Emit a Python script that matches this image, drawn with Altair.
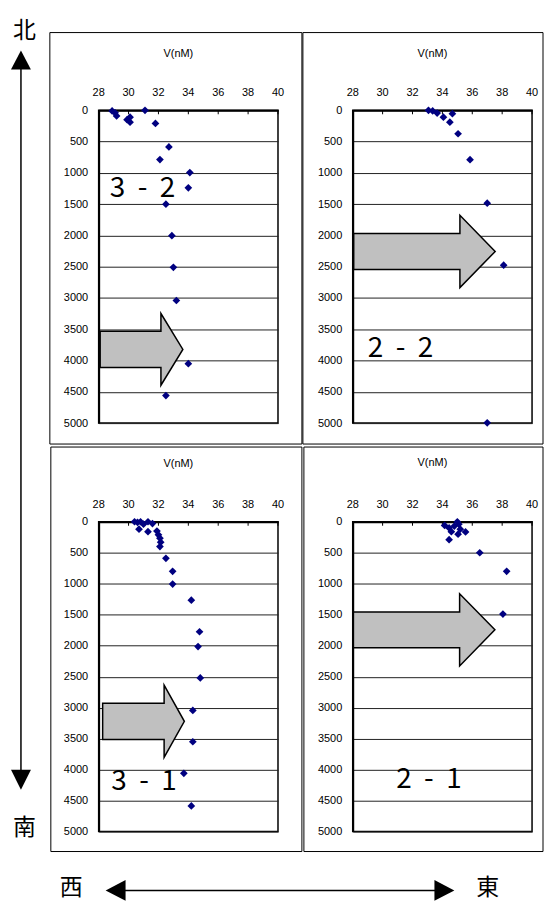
import altair as alt
import pandas as pd

# ---------------- data ----------------
x_ticks = [28, 30, 32, 34, 36, 38, 40]
y_ticks = [0, 500, 1000, 1500, 2000, 2500, 3000, 3500, 4000, 4500, 5000]

# panel 3-2 (north-west)
v_32 = [28.9, 29.1, 29.2, 29.9, 30.1, 30.1, 31.1, 31.8, 32.7, 32.1, 34.1, 34.0, 32.5, 32.9, 33.0, 33.2, 34.0, 32.5]
d_32 = [10, 40, 90, 150, 110, 190, 0, 210, 585, 787, 995, 1240, 1500, 2005, 2510, 3040, 4050, 4560]

# panel 2-2 (north-east)
v_22 = [33.07, 33.35, 33.65, 34.07, 34.67, 34.5, 35.05, 35.85, 37.0, 38.1, 37.0]
d_22 = [0, 10, 45, 110, 55, 190, 375, 790, 1485, 2475, 4995]

# panel 3-1 (south-west)
v_31 = [30.4, 30.6, 30.8, 31.0, 30.7, 31.3, 31.6, 31.3, 31.9, 32.0, 32.1, 32.15, 32.1, 32.5,
        32.95, 32.95, 34.2, 34.75, 34.65, 34.8, 34.3, 34.3, 33.7, 34.2]
d_31 = [0, 10, 0, 40, 120, 0, 30, 160, 150, 210, 265, 330, 400, 590,
        800, 1005, 1265, 1775, 2015, 2520, 3045, 3550, 4060, 4585]

# panel 2-1 (south-east)
v_21 = [34.15, 34.45, 34.6, 34.8, 35.0, 35.1, 35.2, 35.05, 35.55, 34.45, 36.5, 38.3, 38.05]
d_21 = [60, 100, 160, 70, 0, 40, 120, 200, 165, 290, 500, 800, 1490]

labels = ["3\u00a0\u00a0-\u00a0\u00a02", "2\u00a0\u00a0-\u00a0\u00a02", "3\u00a0\u00a0-\u00a0\u00a01", "2\u00a0\u00a0-\u00a0\u00a01"]
x_title = "V(nM)"

# ---------------- helpers ----------------
ONE = pd.DataFrame({"k": [0]})
W_PLOT = 180
H_TOP = 314
H_BOT = 311


def poly_path(pts, s):
    return "M" + "L".join(f"{x / s:.4f},{y / s:.4f}" for x, y in pts) + "Z"


def block_arrow(w, h, b, l):
    pts = [(-w / 2, -b / 2), (w / 2 - l, -b / 2), (w / 2 - l, -h / 2), (w / 2, 0),
           (w / 2 - l, h / 2), (w / 2 - l, b / 2), (-w / 2, b / 2)]
    return poly_path(pts, w / 2), w * w


def tri(direction, length, width):
    L, Wd = length / 2, width / 2
    if direction == "up":
        pts = [(0, -L), (Wd, L), (-Wd, L)]
    elif direction == "down":
        pts = [(0, L), (Wd, -L), (-Wd, -L)]
    elif direction == "left":
        pts = [(-L, 0), (L, -Wd), (L, Wd)]
    else:
        pts = [(L, 0), (-L, -Wd), (-L, Wd)]
    s = max(L, Wd)
    return poly_path(pts, s), (2 * s) ** 2


def shape_at(path_size, cx, cy, fill, stroke="black", sw=1.5):
    path, size = path_size
    return alt.Chart(ONE).mark_point(
        shape=path, size=size, filled=True, fill=fill, stroke=stroke,
        strokeWidth=sw, opacity=1, strokeJoin="miter"
    ).encode(x=alt.value(cx), y=alt.value(cy))


def text_at(txt, cx, cy, size, font, baseline="middle"):
    return alt.Chart(ONE).mark_text(
        text=txt, fontSize=size, font=font, color="black", align="center", baseline=baseline
    ).encode(x=alt.value(cx), y=alt.value(cy))


def panel(v, d, label, label_xy, arrow, arrow_xy, box, title_xy):
    df = pd.DataFrame({"V": v, "depth": d})
    xs = alt.Scale(domain=[28, 40], nice=False, zero=False)
    ys = alt.Scale(domain=[0, 5000], reverse=True, nice=False)
    pts = alt.Chart(df).mark_point(
        shape="diamond", filled=True, color="#000080", size=60, opacity=1
    ).encode(
        x=alt.X("V:Q", scale=xs, title=None,
                axis=alt.Axis(orient="top", values=x_ticks, grid=False, labels=False)),
        y=alt.Y("depth:Q", scale=ys, title=None,
                axis=alt.Axis(values=y_ticks, grid=True, format="d", labelFlush=False,
                              labelOverlap=False, labelPadding=11)),
    )
    tdf = pd.DataFrame({"t": x_ticks})
    ticks = alt.Chart(tdf).mark_rule(color="black", strokeWidth=1).encode(
        x=alt.X("t:Q", scale=xs, title=None), y=alt.value(0), y2=alt.value(4)
    )
    tick_labels = alt.Chart(tdf).mark_text(
        fontSize=11, font="Liberation Sans", color="black", baseline="middle", align="center"
    ).encode(x=alt.X("t:Q", scale=xs, title=None), y=alt.value(-17), text=alt.Text("t:Q", format="d"))
    border = alt.Chart(ONE).mark_rect(fillOpacity=0, stroke="black", strokeWidth=1).encode(
        x=alt.value(box[0]), x2=alt.value(box[1]), y=alt.value(box[2]), y2=alt.value(box[3])
    )
    title = text_at(x_title, title_xy[0], title_xy[1], 11, "Liberation Sans")
    arr = shape_at(block_arrow(*arrow), arrow_xy[0], arrow_xy[1], "#c0c0c0")
    lab = text_at(label, label_xy[0], label_xy[1], 28, "Noto Sans CJK JP")
    return [border, ticks, tick_labels, arr, pts, lab, title]


# top-left panel carries the compass decorations
tl_layers = panel(v_32, d_32, labels[0], (44, 79), (83, 72, 36.5, 22), (43, 240),
                  (-49, 204, -78, 335), (80, -56))
anchor = alt.Chart(ONE).mark_rect(opacity=0).encode(
    x=alt.value(-90), x2=alt.value(-89), y=alt.value(-100), y2=alt.value(-99)
)
vline = alt.Chart(ONE).mark_rule(color="black", strokeWidth=1.5).encode(
    x=alt.value(-78), y=alt.value(-45), y2=alt.value(666)
)
H_ARROW_Y = 783
hline = alt.Chart(ONE).mark_rule(color="black", strokeWidth=1.5).encode(
    x=alt.value(22), x2=alt.value(342), y=alt.value(H_ARROW_Y)
)
deco = [
    anchor, vline, hline,
    shape_at(tri("up", 19, 20), -78, -50.5, "black", sw=0),
    shape_at(tri("down", 20, 20), -78, 672, "black", sw=0),
    shape_at(tri("left", 20, 21), 17, H_ARROW_Y, "black", sw=0),
    shape_at(tri("right", 20, 21), 347, H_ARROW_Y, "black", sw=0),
    text_at("北", -74.5, -80, 23, "Noto Sans CJK JP"),
    text_at("南", -74.5, 720, 23, "Noto Sans CJK JP"),
    text_at("西", -27.5, H_ARROW_Y - 2, 23, "Noto Sans CJK JP"),
    text_at("東", 390.5, H_ARROW_Y - 2, 23, "Noto Sans CJK JP"),
]
tl = alt.layer(*(tl_layers + deco)).properties(width=W_PLOT, height=H_TOP)

tr = alt.layer(*panel(v_22, d_22, labels[1], (48, 239.5), (142, 72.5, 36, 35.4), (72, 141.7),
                      (-50, 191, -78, 335), (80, -56))).properties(width=W_PLOT, height=H_TOP)

bl = alt.layer(*panel(v_31, d_31, labels[2], (45.5, 261), (82, 72.5, 36.5, 20.3), (45, 200.3),
                      (-48, 204, -75, 331), (80, -58))).properties(width=W_PLOT, height=H_BOT)

br = alt.layer(*panel(v_21, d_21, labels[3], (76.5, 259), (142, 72.4, 36, 35.4), (71.7, 108.5),
                      (-49, 191, -75, 331), (80, -59))).properties(width=W_PLOT, height=H_BOT)

chart = alt.concat(
    tl, tr, bl, br, columns=2, spacing={"row": 99, "column": 75}, bounds="flush"
).properties(
    padding={"left": 0, "top": 0, "right": 0, "bottom": -1}, background="white"
).configure_view(
    stroke="black", strokeWidth=1.5
).configure_axis(
    labelFont="Liberation Sans", labelFontSize=11, labelColor="black",
    ticks=False, domainColor="black", domainWidth=2,
    gridColor="#222222", gridWidth=1, labelOverlap=False,
)

chart.save("out.html", embed_options={"renderer": "svg", "actions": False})
